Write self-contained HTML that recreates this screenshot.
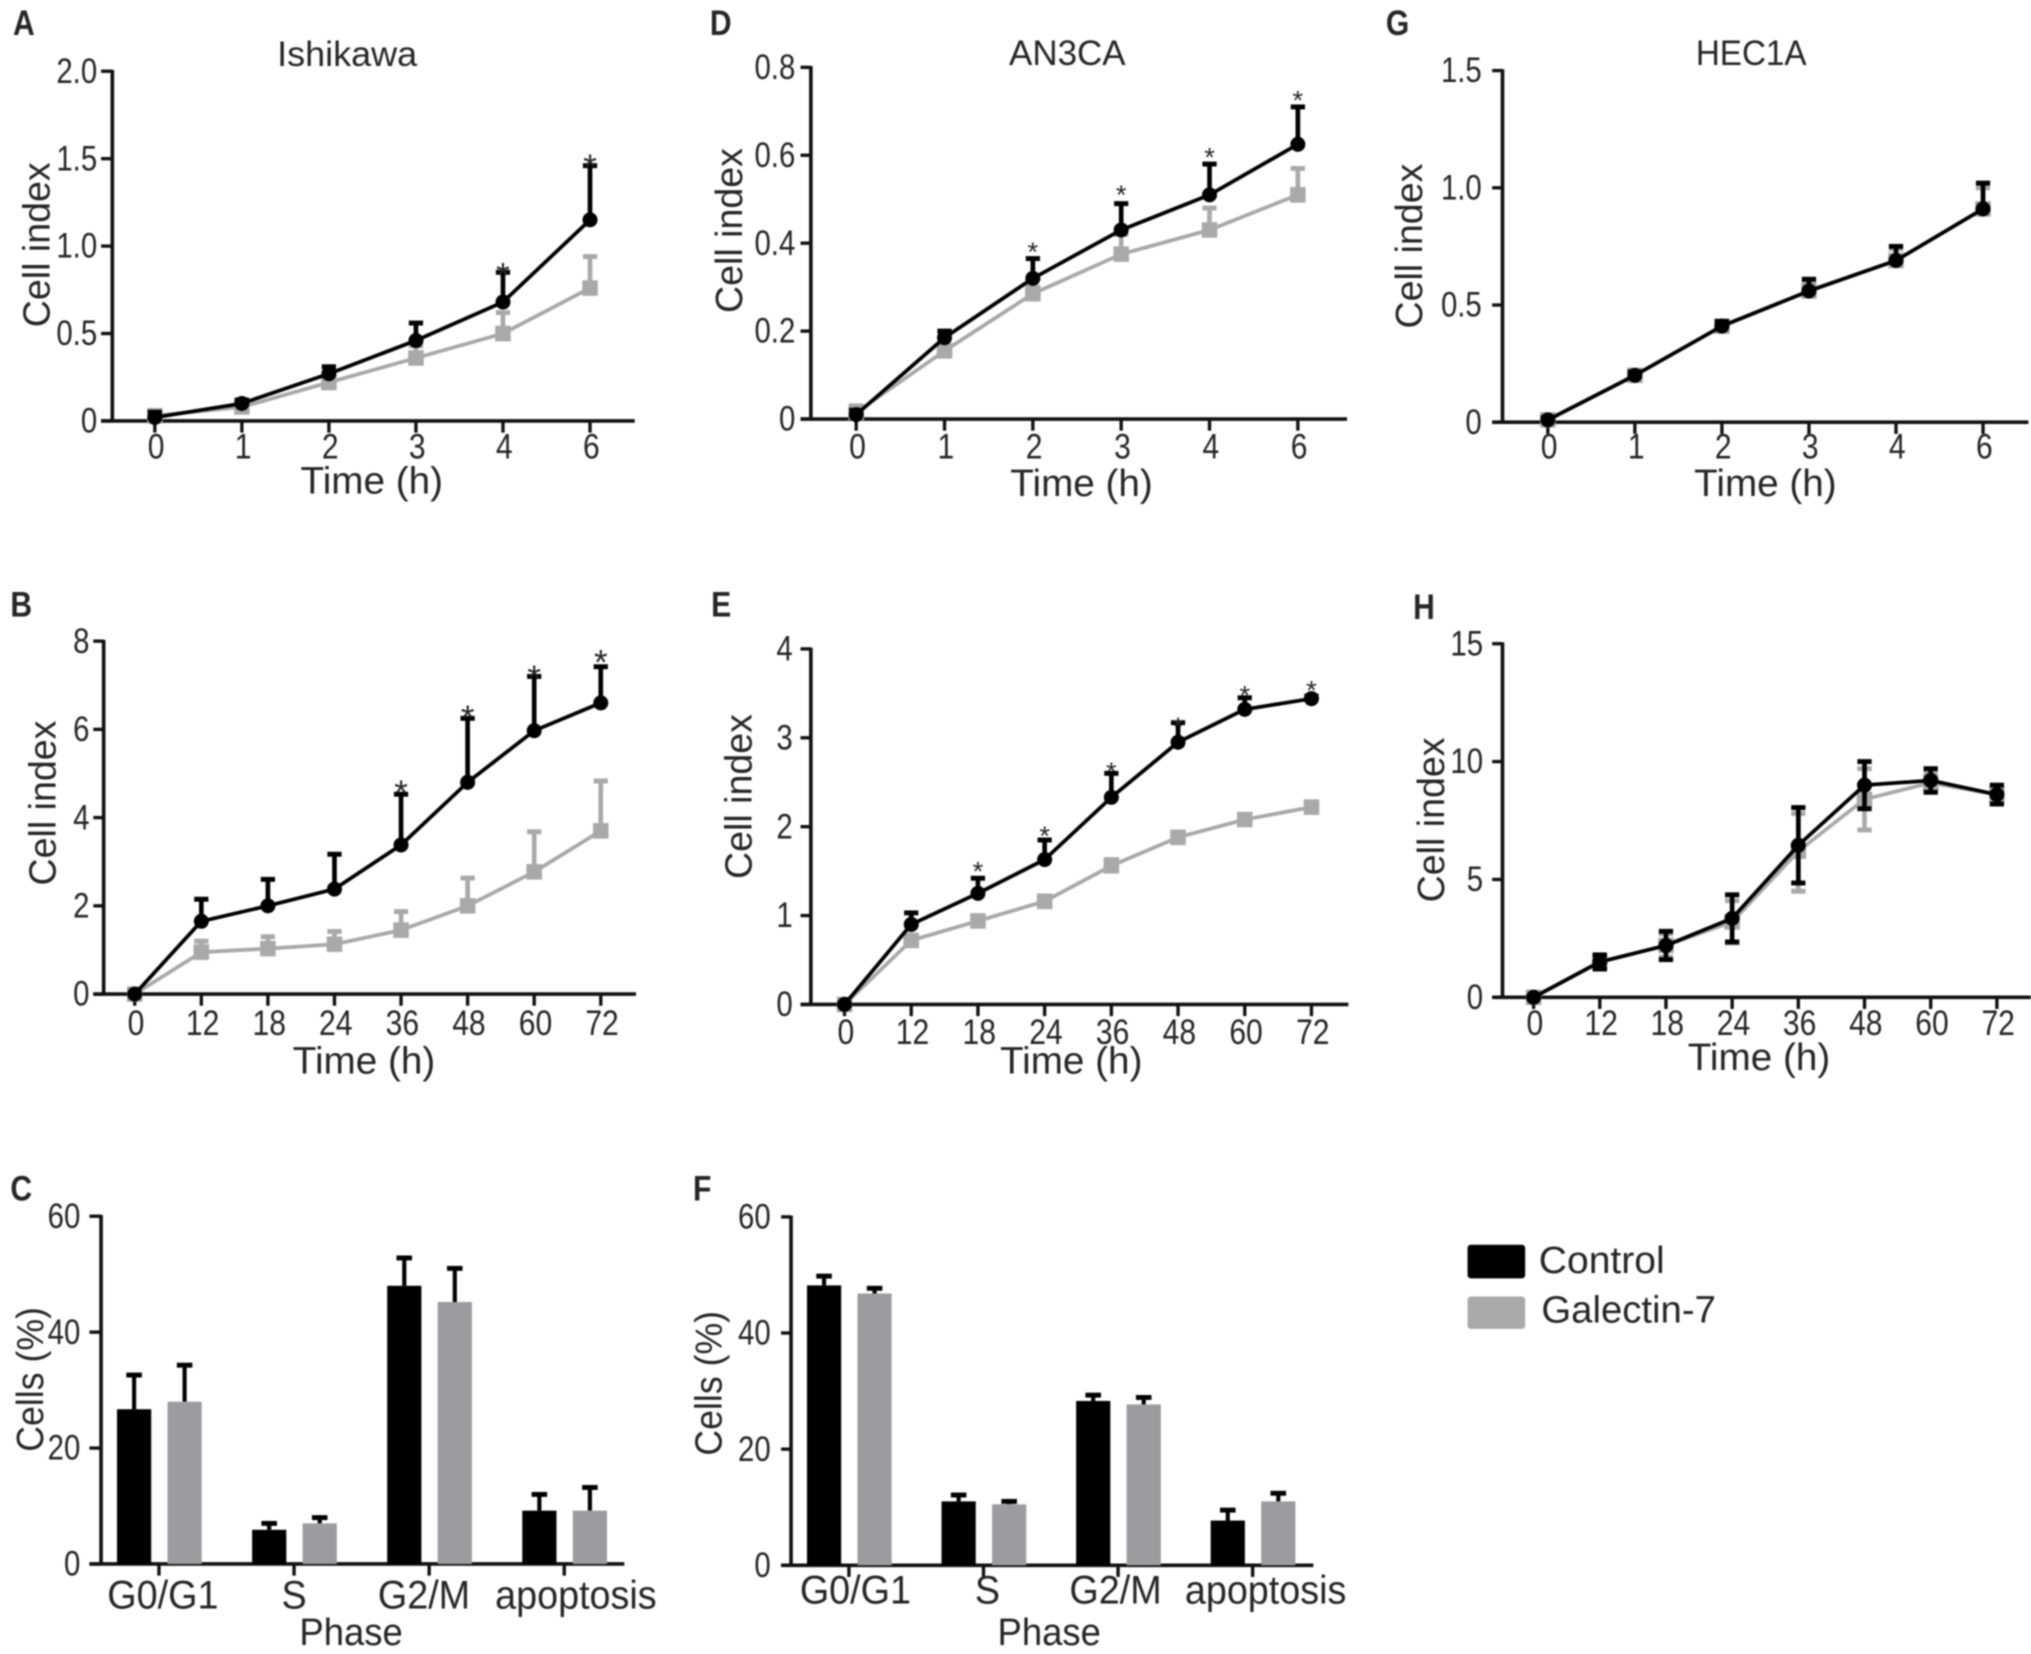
<!DOCTYPE html>
<html lang="en">
<head>
<meta charset="utf-8">
<title>Galectin-7 cell index and cell cycle panels</title>
<style>
html,body{margin:0;padding:0;background:#fff;width:2031px;height:1654px;overflow:hidden}
svg{display:block;filter:blur(0.7px)}
text{font-family:"Liberation Sans",sans-serif;fill:#262626}
</style>
</head>
<body>
<svg id="figure" xmlns="http://www.w3.org/2000/svg" width="2031" height="1654" viewBox="0 0 1568 1277"></svg>
<script>
// ---------- categories and tick labels ----------
const hoursShort = ['0','1','2','3','4','6'];
const hoursLong = ['0','12','18','24','36','48','60','72'];
const phases = ['G0/G1','S','G2/M','apoptosis'];
const yTicksA = ['0','0.5','1.0','1.5','2.0'];
const yTicksD = ['0','0.2','0.4','0.6','0.8'];
const yTicksG = ['0','0.5','1.0','1.5'];
const yTicksB = ['0','2','4','6','8'];
const yTicksE = ['0','1','2','3','4'];
const yTicksH = ['0','5','10','15'];
const yTicksBar = ['0','20','40','60'];

// ---------- panel A ----------
const aControl = [0.02,0.10,0.27,0.46,0.68,1.15];
const aControlUpper = [0.05,0.12,0.31,0.56,0.85,1.46];
const aGalectin = [0.03,0.08,0.22,0.36,0.50,0.76];
const aGalectinUpper = [0.06,0.09,0.24,0.43,0.62,0.94];
const aStars = [4,5];
const aStarLevels = [0.88,1.5];
// ---------- panel D ----------
const dControl = [0.01,0.185,0.32,0.43,0.51,0.625];
const dControlUpper = [0.02,0.20,0.365,0.49,0.58,0.71];
const dGalectin = [0.015,0.155,0.285,0.375,0.43,0.51];
const dGalectinUpper = [0.03,0.165,0.30,0.42,0.48,0.57];
const dStars = [2,3,4,5];
const dStarLevels = [0.395,0.525,0.61,0.74];
// ---------- panel G ----------
const gControl = [0.01,0.20,0.41,0.56,0.69,0.91];
const gControlUpper = [0.02,0.215,0.43,0.61,0.75,1.02];
const gGalectin = [0.01,0.20,0.41,0.56,0.69,0.91];
const gGalectinUpper = [0.02,0.21,0.43,0.60,0.74,1.00];
const gStars = [];
const gStarLevels = [];
// ---------- panel B ----------
const bControl = [0,1.65,2.0,2.38,3.38,4.8,5.97,6.6];
const bControlUpper = [0,2.15,2.6,3.17,4.53,6.25,7.2,7.42];
const bGalectin = [0,0.95,1.03,1.13,1.45,2.0,2.77,3.7];
const bGalectinUpper = [0,1.2,1.3,1.42,1.87,2.63,3.68,4.83];
const bStars = [4,5,6,7];
const bStarLevels = [4.75,6.45,7.35,7.7];
// ---------- panel E ----------
const eControl = [0,0.9,1.25,1.63,2.33,2.95,3.32,3.44];
const eControlUpper = [0,1.03,1.42,1.85,2.6,3.17,3.45,3.47];
const eGalectin = [0,0.72,0.94,1.16,1.56,1.88,2.08,2.22];
const eGalectinUpper = [0,0.76,0.99,1.22,1.63,1.93,2.11,2.25];
const eStars = [2,3,4,5,6,7];
const eStarLevels = [1.57,1.97,2.69,3.2,3.55,3.61];
// ---------- panel H ----------
const hControl = [0,1.5,2.2,3.35,6.45,9.0,9.2,8.6];
const hControlUpper = [0,1.8,2.8,4.35,8.05,10.0,9.7,9.0];
const hControlLower = [0,1.2,1.6,2.35,4.85,8.0,8.7,8.2];
const hGalectin = [0,1.5,2.2,3.2,6.2,8.4,9.1,8.6];
const hGalectinUpper = [0,1.75,2.7,4.1,7.8,9.7,9.5,8.9];
const hGalectinLower = [0,1.25,1.7,2.3,4.5,7.1,8.7,8.3];
const hStars = [];
const hStarLevels = [];
// ---------- panel C ----------
const cControl = [26.7,5.9,48.0,9.2];
const cControlUpper = [32.6,7.0,52.8,12.0];
const cGalectin = [28.0,7.0,45.2,9.2];
const cGalectinUpper = [34.3,8.0,51.0,13.2];
// ---------- panel F ----------
const fControl = [48.2,11.0,28.3,7.7];
const fControlUpper = [49.8,12.1,29.3,9.5];
const fGalectin = [46.8,10.5,27.7,11.0];
const fGalectinUpper = [47.7,11.0,28.9,12.4];

const NS = 'http://www.w3.org/2000/svg';
const figure = document.getElementById('figure');
const INK = '#111';
const GREY = '#a9a9a9';
const BAR_GREY = '#9c9ca0';

function svgEl(tag, attrs, parent) {
  const el = document.createElementNS(NS, tag);
  for (const k in attrs) el.setAttribute(k, attrs[k]);
  (parent || figure).appendChild(el);
  return el;
}
function addText(str, x, y, size, sx, anchor, parent, rotate, weight) {
  const tf = 'translate(' + x + ' ' + y + ')' + (rotate ? ' rotate(' + rotate + ')' : '') + ' scale(' + sx + ' 1)';
  const el = svgEl('text', {transform: tf, 'font-size': size, 'text-anchor': anchor}, parent);
  if (weight) el.setAttribute('font-weight', weight);
  el.textContent = str;
  return el;
}

function yScaleOf(p) {
  const max = Number(p.yTicks[p.yTicks.length - 1]);
  return v => p.y0 - (v / max) * (p.y0 - p.yTop);
}

function drawFrame(p, g, xTicks) {
  const y = yScaleOf(p);
  const yAxis = svgEl('line', {x1: p.axisX, x2: p.axisX, y1: p.yTop - 1, y2: p.y0 + 1, stroke: INK, 'stroke-width': 2.8}, g);
  
  
  const xAxis = svgEl('line', {x1: p.axisLeft, x2: p.axisEnd, y1: p.y0, y2: p.y0, stroke: INK, 'stroke-width': 2.8}, g);
  
  
  p.yTicks.forEach(label => {
    const v = Number(label);
    const t = svgEl('line', {x1: p.axisLeft, x2: p.axisX, y1: y(v), y2: y(v), stroke: INK, 'stroke-width': 2.6}, g);
    
    
    const l = addText(label, p.axisLeft - p.labelGap, y(v) + 9, 27, 0.84, 'end', g);
    
    
  });
  xTicks.forEach(tick => {
    const t = svgEl('line', {x1: tick.x, x2: tick.x, y1: p.y0, y2: p.y0 + 9, stroke: INK, 'stroke-width': 2.6}, g);
    
    
    const l = addText(tick.label, tick.labelX, p.labelY, p.catSize, p.catSx, 'middle', g);
    
    
  });
  const yTitle = addText(p.yTitle, p.yTitleX, p.yTitleY, 29, p.yTitleSx, 'middle', g, -90);
  
  
  const xTitle = addText(p.xTitle, p.xTitleX, p.xTitleY, 29, p.xTitleSx, 'middle', g);
  
  
  const letter = addText(p.letter, p.letterX, p.letterY, 27, 0.86, 'start', g, 0, 'bold');
  
  
  if (p.title) {
    const title = addText(p.title, p.titleX, p.titleY, 27, p.titleSx, 'middle', g);
    
    
  }
}

function drawSeries(p, g, values, upper, lower, colour, marker, seriesName) {
  const y = yScaleOf(p);
  const x = i => p.x0 + i * p.xStep;
  const s = svgEl('g', {}, g);
  
  
  values.forEach((v, i) => {
    const bottom = lower ? lower[i] : v;
    const bar = svgEl('line', {x1: x(i), x2: x(i), y1: y(bottom), y2: y(upper[i]), stroke: colour, 'stroke-width': 3.6}, s);
    
    
    const cap = svgEl('line', {x1: x(i) - 5.5, x2: x(i) + 5.5, y1: y(upper[i]), y2: y(upper[i]), stroke: colour, 'stroke-width': 3.8}, s);
    
    
    if (lower) {
      const capLow = svgEl('line', {x1: x(i) - 5.5, x2: x(i) + 5.5, y1: y(lower[i]), y2: y(lower[i]), stroke: colour, 'stroke-width': 3.8}, s);
      
      
    }
  });
  const pts = values.map((v, i) => x(i) + ',' + y(v)).join(' ');
  const line = svgEl('polyline', {points: pts, fill: 'none', stroke: colour, 'stroke-width': 2.9, 'stroke-linejoin': 'round'}, s);
  
  
  values.forEach((v, i) => {
    let m;
    if (marker === 'circle') {
      m = svgEl('circle', {cx: x(i), cy: y(v), r: 5.8, fill: colour}, s);
    } else {
      m = svgEl('rect', {x: x(i) - 6, y: y(v) - 6, width: 12, height: 12, fill: colour}, s);
    }
    
    
  });
}

function drawLinePanel(p) {
  p.catSize = 27;
  p.catSx = 0.86;
  p.yTitleSx = 1;
  p.xTitleSx = 1.03;
  const g = svgEl('g', {});
  
  
  const ticks = p.categories.map((c, i) => ({label: c, x: p.x0 + i * p.xStep, labelX: p.x0 + i * p.xStep + 1}));
  drawFrame(p, g, ticks);
  drawSeries(p, g, p.galectin, p.galectinUpper, p.galectinLower, GREY, 'square', 'galectin-7');
  drawSeries(p, g, p.control, p.controlUpper, p.controlLower, '#000', 'circle', 'control');
  const y = yScaleOf(p);
  p.stars.forEach((i, k) => {
    const star = addText('*', p.x0 + i * p.xStep, y(p.starLevels[k]) + 0.58 * p.starSize, p.starSize, 1, 'middle', g);
    
    
  });
}

function drawBarPanel(p) {
  p.catSize = 31;
  p.catSx = 0.94;
  p.yTitleSx = 0.95;
  p.xTitleSx = 0.97;
  const g = svgEl('g', {});
  
  
  const ticks = p.categories.map((c, i) => ({label: c, x: p.x0 + i * p.xStep, labelX: p.x0 + i * p.xStep + p.catOffset[i]}));
  drawFrame(p, g, ticks);
  const y = yScaleOf(p);
  const w = 26.4;
  const drawGroup = (values, upper, offset, colour, name) => {
    values.forEach((v, i) => {
      const cx = p.x0 + i * p.xStep + offset;
      const err = svgEl('line', {x1: cx, x2: cx, y1: y(v), y2: y(upper[i]), stroke: '#000', 'stroke-width': 3.2}, g);
      
      
      const cap = svgEl('line', {x1: cx - 6, x2: cx + 6, y1: y(upper[i]), y2: y(upper[i]), stroke: '#000', 'stroke-width': 3.8}, g);
      
      
      const bar = svgEl('rect', {x: cx - w / 2, y: y(v), width: w, height: p.y0 - y(v), fill: colour}, g);
      
      
    });
  };
  drawGroup(p.control, p.controlUpper, -19.2, '#000', 'control');
  drawGroup(p.galectin, p.galectinUpper, 19.8, BAR_GREY, 'galectin-7');
}

drawLinePanel({letter:'A', letterX:10, letterY:27, title:'Ishikawa', titleX:268, titleY:51, titleSx:1.03,
  categories:hoursShort, yTicks:yTicksA, x0:119.5, xStep:67.2, yTop:55, y0:325, axisX:86.7, axisLeft:78, axisEnd:490, labelGap:3,
  labelY:354, yTitle:'Cell index', yTitleX:38, yTitleY:189, xTitle:'Time (h)', xTitleX:287, xTitleY:381,
  control:aControl, controlUpper:aControlUpper, galectin:aGalectin, galectinUpper:aGalectinUpper, stars:aStars, starLevels:aStarLevels, starSize:27});

drawLinePanel({letter:'D', letterX:548, letterY:27, title:'AN3CA', titleX:824, titleY:50, titleSx:1,
  categories:hoursShort, yTicks:yTicksD, x0:661, xStep:68.2, yTop:52, y0:323.5, axisX:626, axisLeft:618, axisEnd:1040, labelGap:4,
  labelY:354, yTitle:'Cell index', yTitleX:573, yTitleY:178, xTitle:'Time (h)', xTitleX:835, xTitleY:383,
  control:dControl, controlUpper:dControlUpper, galectin:dGalectin, galectinUpper:dGalectinUpper, stars:dStars, starLevels:dStarLevels, starSize:21});

drawLinePanel({letter:'G', letterX:1070, letterY:27, title:'HEC1A', titleX:1352, titleY:50, titleSx:0.95,
  categories:hoursShort, yTicks:yTicksG, x0:1195, xStep:67.2, yTop:54.5, y0:326, axisX:1160, axisLeft:1152, axisEnd:1566, labelGap:8,
  labelY:354, yTitle:'Cell index', yTitleX:1098, yTitleY:190, xTitle:'Time (h)', xTitleX:1363, xTitleY:383,
  control:gControl, controlUpper:gControlUpper, galectin:gGalectin, galectinUpper:gGalectinUpper, stars:gStars, starLevels:gStarLevels, starSize:21});

drawLinePanel({letter:'B', letterX:8, letterY:476,
  categories:hoursLong, yTicks:yTicksB, x0:104, xStep:51.4, yTop:495, y0:767.5, axisX:80, axisLeft:72, axisEnd:491, labelGap:3,
  labelY:799, yTitle:'Cell index', yTitleX:43, yTitleY:620, xTitle:'Time (h)', xTitleX:281, xTitleY:829,
  control:bControl, controlUpper:bControlUpper, galectin:bGalectin, galectinUpper:bGalectinUpper, stars:bStars, starLevels:bStarLevels, starSize:27});

drawLinePanel({letter:'E', letterX:549, letterY:476,
  categories:hoursLong, yTicks:yTicksE, x0:652, xStep:51.5, yTop:501, y0:775.5, axisX:626, axisLeft:618, axisEnd:1041, labelGap:6,
  labelY:806, yTitle:'Cell index', yTitleX:580, yTitleY:615, xTitle:'Time (h)', xTitleX:827, xTitleY:829,
  control:eControl, controlUpper:eControlUpper, galectin:eGalectin, galectinUpper:eGalectinUpper, stars:eStars, starLevels:eStarLevels, starSize:21});

drawLinePanel({letter:'H', letterX:1091, letterY:478,
  categories:hoursLong, yTicks:yTicksH, x0:1184, xStep:51.1, yTop:497, y0:770, axisX:1160, axisLeft:1152, axisEnd:1568, labelGap:7,
  labelY:799, yTitle:'Cell index', yTitleX:1115, yTitleY:633, xTitle:'Time (h)', xTitleX:1358, xTitleY:826,
  control:hControl, controlUpper:hControlUpper, controlLower:hControlLower, galectin:hGalectin, galectinUpper:hGalectinUpper, galectinLower:hGalectinLower, stars:hStars, starLevels:hStarLevels, starSize:21});

drawBarPanel({letter:'C', letterX:8, letterY:927,
  categories:phases, catOffset:[3,0,-4,9], yTicks:yTicksBar, x0:122.7, xStep:104.3, yTop:939, y0:1207.5, axisX:78, axisLeft:69, axisEnd:482, labelGap:7,
  labelY:1242, yTitle:'Cells (%)', yTitleX:33, yTitleY:1065, xTitle:'Phase', xTitleX:271, xTitleY:1270,
  control:cControl, controlUpper:cControlUpper, galectin:cGalectin, galectinUpper:cGalectinUpper});

drawBarPanel({letter:'F', letterX:535, letterY:927,
  categories:phases, catOffset:[5,3,-2,10], yTicks:yTicksBar, x0:655.4, xStep:103.9, yTop:939.5, y0:1208.5, axisX:610.7, axisLeft:603, axisEnd:1014, labelGap:8,
  labelY:1238, yTitle:'Cells (%)', yTitleX:557, yTitleY:1068, xTitle:'Phase', xTitleX:810, xTitleY:1270,
  control:fControl, controlUpper:fControlUpper, galectin:fGalectin, galectinUpper:fGalectinUpper});

// ---------- legend ----------
const legend = svgEl('g', {});


const swatchControl = svgEl('rect', {x:1133, y:961, width:44.5, height:26, rx:2.5, fill:'#000'}, legend);


const labelControl = addText('Control', 1188, 983, 29, 1.04, 'start', legend);


const swatchGalectin = svgEl('rect', {x:1133, y:1001, width:44.5, height:25, rx:2.5, fill:'#a9a9a9'}, legend);


const labelGalectin = addText('Galectin-7', 1190, 1021, 29, 1.02, 'start', legend);


</script>
</body>
</html>
